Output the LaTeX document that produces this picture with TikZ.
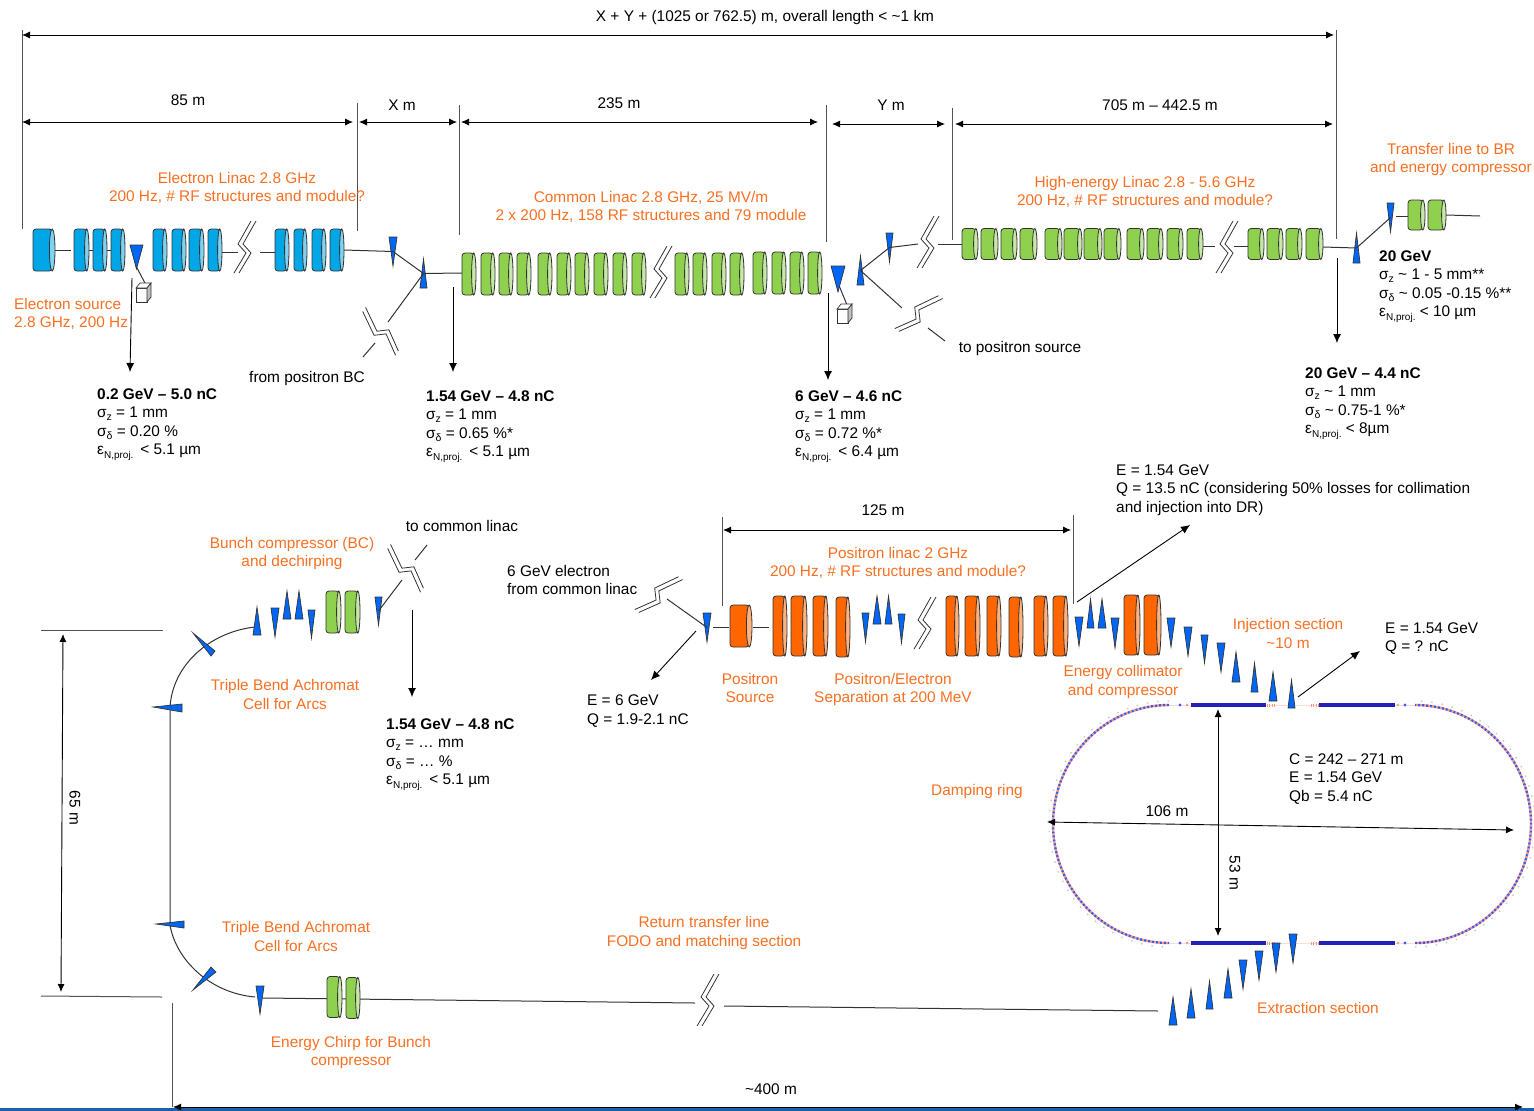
\documentclass[tikz,border=0pt]{standalone}
\usepackage{fontspec}
\setmainfont{Liberation Sans}
\usetikzlibrary{arrows.meta}
\definecolor{cavb}{HTML}{00A6E6}
\definecolor{cavg}{HTML}{8FD14F}
\definecolor{cavo}{HTML}{FF6600}
\definecolor{tribl}{HTML}{0066F5}
\definecolor{lab}{HTML}{F96F22}
\definecolor{ln}{HTML}{333333}
\definecolor{ringb}{HTML}{2222B8}
\definecolor{ringd}{HTML}{4A55E8}
\definecolor{ringp}{HTML}{F79A80}
\definecolor{ringg}{HTML}{B4D4AC}
\definecolor{barb}{HTML}{1F5FA8}
\tikzset{
  x=1pt,y=-1pt,
  wire/.style={draw=ln,line width=1pt},
  arrowdim/.style={draw=black,line width=0.9pt,{Latex[length=8pt,width=7pt]}-{Latex[length=8pt,width=7pt]}},
  arrowone/.style={draw=black,line width=0.9pt,-{Latex[length=9pt,width=8pt]}},
  tick/.style={draw=ln!85!white,line width=1pt},
  txt/.style={font=\fontsize{15.4}{18.5}\selectfont,inner sep=0pt,align=center,text=black},
  olab/.style={txt,text=lab},
  info/.style={txt,align=left,anchor=north west},
  trishape/.style={fill=tribl,draw=ln,line width=0.7pt,line join=miter},
  cavline/.style={draw=ln,line width=0.8pt},
  hit/.style={inner sep=0pt,minimum size=1pt},
}
\newcommand{\cav}[7][2.2]{%
  \node[hit,minimum width={(#4-#3)*1pt},minimum height={#6*1pt}] (#2) at ({(#3+#4)/2},#5) {};
  \filldraw[cavline,fill=#7,rounded corners=3pt] (#3,{#5-#6/2}) rectangle ({#4-#1},{#5+#6/2});
  \filldraw[cavline,fill=#7!50!white] ({#4-#1},#5) ellipse [x radius={#1*1pt},y radius={#6/2*1pt}];
}
\newcommand{\trid}[5]{%
  \node[hit,minimum width={(#3-#2)*1pt},minimum height={(#5-#4)*1pt}] (#1) at ({(#2+#3)/2},{(#4+#5)/2}) {};
  \path[trishape] (#2,#4) -- (#3,#4) -- ({(#2+#3)/2},#5) -- cycle;
}
\newcommand{\triu}[5]{%
  \node[hit,minimum width={(#3-#2)*1pt},minimum height={(#5-#4)*1pt}] (#1) at ({(#2+#3)/2},{(#4+#5)/2}) {};
  \path[trishape] (#2,#5) -- (#3,#5) -- ({(#2+#3)/2},#4) -- cycle;
}
\newcommand{\brk}[4]{%
  \coordinate (#1) at (#2,#3);
  \begin{scope}[shift={(#1)},rotate=#4]
    \draw[draw=ln,line width=0.8pt] (6,-29) -- (-7,-6) -- (1,3) -- (-11,23);
    \draw[draw=ln,line width=0.8pt] (11,-29) -- (-2,-6) -- (6,3) -- (-6,23);
  \end{scope}
}
\newcommand{\conn}[4][wire]{\coordinate (#2a) at (#3); \coordinate (#2b) at (#4); \draw[#1] (#2a) -- (#2b);}
\newcommand{\cube}[3]{%
  \coordinate (#1) at (#2,#3);
  \filldraw[draw=ln,line width=0.7pt,fill=white] (#2,{#3+5}) rectangle ({#2+11},{#3+19});
  \filldraw[draw=ln,line width=0.7pt,fill=white] (#2,{#3+5}) -- ({#2+4},#3) -- ({#2+15},#3) -- ({#2+11},{#3+5}) -- cycle;
  \filldraw[draw=ln,line width=0.7pt,fill=black!25] ({#2+11},{#3+5}) -- ({#2+15},#3) -- ({#2+15},{#3+14}) -- ({#2+11},{#3+19}) -- cycle;
}
\newcommand{\sbs}[1]{\raisebox{-3pt}{\fontsize{10.5}{10.5}\selectfont #1}}
\newcommand{\sbn}{\raisebox{-3.5pt}{\fontsize{10}{10}\selectfont N,proj.}}
\newcommand{\sigz}{σ\sbs{z}}
\newcommand{\sigd}{σ\sbs{δ}}
\newcommand{\epsn}{ε\sbn}
\begin{document}
\begin{tikzpicture}
\useasboundingbox (0,0) rectangle (1534,1111);
\fill[barb] (0,1108) rectangle (1534,1111);

% ---- dimension ticks and arrows, upper line
\conn[tick]{ta}{22,30}{22,229}
\conn[tick]{tb}{357,103}{357,231}
\conn[tick]{tc}{459,105}{459,235}
\conn[tick]{td}{826,105}{826,242}
\conn[tick]{te}{952,108}{952,240}
\conn[tick]{tf}{1336,30}{1336,239}
\conn[arrowdim]{da}{22,35}{1334,35}
\conn[arrowdim]{db}{22,122}{353,122}
\conn[arrowdim]{dc}{359,122}{457,122}
\conn[arrowdim]{dd}{461,122}{818,122}
\conn[arrowdim]{de}{832,124}{945,124}
\conn[arrowdim]{df}{955,124}{1333,124}
\node[txt] (ta1) at (765,18) {X + Y + (1025 or 762.5) m, overall length < \textasciitilde1 km};
\node[txt] (tb1) at (188,100.5) {85 m};
\node[txt] (tc1) at (402,105) {X m};
\node[txt] (td1) at (619,103.5) {235 m};
\node[txt] (te1) at (891,105) {Y m};
\node[txt] (tf1) at (1160,105) {705 m – 442.5 m};
\node[olab] (l1) at (237,188) {Electron Linac 2.8 GHz\\200 Hz, \# RF structures and module?};
\node[olab] (l2) at (651,207) {Common Linac 2.8 GHz, 25 MV/m\\2 x 200 Hz, 158 RF structures and 79 module};
\node[olab] (l3) at (1145,192) {High-energy Linac 2.8 - 5.6 GHz\\200 Hz, \# RF structures and module?};
\node[olab] (l4) at (1451,159.5) {Transfer line to BR\\and energy compressor};
\node[olab,align=left,anchor=north west] (l5) at (14,298) {Electron source\\2.8 GHz, 200 Hz};

% ---- electron linac
\conn{e1}{55,250}{71,250}
\conn{e2}{89,250}{93,250}
\conn{e3}{107,250}{111,250}
\conn{e4}{222,252}{238,252}
\conn{e5}{260,252}{275,252}
\cav[2.8]{b1}{33}{55}{250}{42}{cavb}
\cav{b2}{74}{89}{250}{42}{cavb}
\cav{b3}{93}{107}{250}{42}{cavb}
\cav{b4}{111}{125}{250}{42}{cavb}
\conn{e6}{136,266}{146,285}
\trid{t1}{130}{143}{245}{269}
\cube{cu1}{136}{283}
\cav{b5}{153}{167}{250}{42}{cavb}
\cav{b6}{172}{186}{250}{42}{cavb}
\cav{b7}{189}{204}{250}{42}{cavb}
\cav{b8}{208}{222}{250}{42}{cavb}
\brk{br1}{245}{250}{0}
\cav{b9}{275}{289}{250}{42}{cavb}
\cav{b10}{294}{307}{250}{42}{cavb}
\cav{b11}{312}{326}{250}{42}{cavb}
\cav{b12}{330}{344}{250}{42}{cavb}
\trid{t2}{389}{397}{237}{266}
\triu{t3}{420}{427}{259}{288}
\draw[wire] (b12.east) -- (t2.center);
\draw[wire] (t2.center) -- (t3.center);
\coordinate (fp) at (388,322);
\draw[wire] (t3.center) -- (fp);
\brk{br2}{383}{333}{55}
\conn{e7}{375,343}{363,357}
\node[txt] (fromBC) at (307,379) {from positron BC};

% ---- common linac
\draw[wire] (t3.center) -- (462,273) coordinate (g1in);
\cav{g1}{462}{476}{274}{42}{cavg}
\cav{g2}{481}{495}{274}{42}{cavg}
\cav{g3}{499}{513}{274}{42}{cavg}
\cav{g4}{517}{531}{274}{42}{cavg}
\cav{g5}{538}{552}{274}{42}{cavg}
\cav{g6}{557}{571}{274}{42}{cavg}
\cav{g7}{575}{589}{274}{42}{cavg}
\cav{g8}{594}{608}{274}{42}{cavg}
\cav{g9}{613}{627}{274}{42}{cavg}
\cav{g10}{632}{646}{274}{42}{cavg}
\brk{br3}{661}{275}{0}
\cav{g11}{675}{689}{274}{42}{cavg}
\cav{g12}{693}{707}{274}{42}{cavg}
\cav{g13}{712}{726}{274}{42}{cavg}
\cav{g14}{730}{744}{274}{42}{cavg}
\cav{g15}{753}{767}{273}{42}{cavg}
\cav{g16}{772}{786}{273}{42}{cavg}
\cav{g17}{790}{804}{273}{42}{cavg}
\cav{g18}{808}{822}{273}{42}{cavg}
\conn{e8}{838,283}{847,305}
\trid{t4}{831}{845}{266}{292}
\cube{cu2}{837}{304}
\triu{t5}{857}{864}{256}{285}
\trid{t6}{886}{893}{233}{262}
\draw[wire] (t5.center) -- (t6.center);
\coordinate (ha) at (918,244);
\draw[wire] (t6.center) -- (ha);
\brk{br4}{928}{245}{0}
\coordinate (tp) at (902,308);
\draw[wire] (t5.center) -- (tp);
\brk{br5}{917}{316}{-35}
\conn{e9}{928,328}{945,341}
\node[txt] (toPS) at (1020,349) {to positron source};

% ---- high energy linac
\conn{e10}{938,244}{962,244}
\conn{e15}{1203,246}{1215,246}
\conn{e16}{1234,246}{1248,246}
\cav{h1}{962}{978}{244}{31}{cavg}
\cav{h2}{981}{998}{244}{31}{cavg}
\cav{h3}{1001}{1017}{244}{31}{cavg}
\cav{h4}{1020}{1037}{244}{31}{cavg}
\cav{h5}{1045}{1062}{244}{31}{cavg}
\cav{h6}{1064}{1082}{244}{31}{cavg}
\cav{h7}{1084}{1102}{244}{31}{cavg}
\cav{h8}{1104}{1121}{244}{31}{cavg}
\cav{h9}{1127}{1144}{244}{31}{cavg}
\cav{h10}{1147}{1163}{244}{31}{cavg}
\cav{h11}{1167}{1183}{244}{31}{cavg}
\cav{h12}{1187}{1203}{244}{31}{cavg}
\brk{br6}{1227}{250}{0}
\cav{h13}{1248}{1264}{244}{31}{cavg}
\cav{h14}{1267}{1283}{244}{31}{cavg}
\cav{h15}{1286}{1302}{244}{31}{cavg}
\cav{h16}{1306}{1323}{244}{31}{cavg}
\triu{t7}{1353}{1360}{233}{263}
\trid{t8}{1387}{1394}{203}{232}
\draw[wire] (1323,247) coordinate (h16out) -- (t7.center);
\draw[wire] (t7.center) -- (t8.center);
\conn{e17}{1396,216}{1408,216}
\cav{h17}{1408}{1425}{215}{30}{cavg}
\cav{h18}{1428}{1446}{215}{30}{cavg}
\coordinate (tend) at (1480,216);
\draw[wire] (h18.east) -- (tend);

% ---- beam parameter arrows and tables, upper line
\conn[arrowone]{a1}{132,278}{130,372}
\conn[arrowone]{a2}{453,287}{453,372}
\conn[arrowone]{a3}{828,293}{828,380}
\conn[arrowone]{a4}{1337,258}{1337,343}
\node[info] (p1) at (97,388.5) {\textbf{0.2 GeV – 5.0 nC}\\\sigz{} = 1 mm\\\sigd{} = 0.20 \%\\\epsn{} \,< 5.1 µm};
\node[info] (p2) at (426,390.5) {\textbf{1.54 GeV – 4.8 nC}\\\sigz{} = 1 mm\\\sigd{} = 0.65 \%*\\\epsn{} \,< 5.1 µm};
\node[info] (p3) at (795,390.5) {\textbf{6 GeV – 4.6 nC}\\\sigz{} = 1 mm\\\sigd{} = 0.72 \%*\\\epsn{} \,< 6.4 µm};
\node[info] (p4) at (1379,250.5) {\textbf{20 GeV}\\\sigz{} \textasciitilde{} 1 - 5 mm**\\\sigd{} \textasciitilde{} 0.05 -0.15 \%**\\\epsn{} < 10 µm};
\node[info] (p5) at (1305,367.5) {\textbf{20 GeV – 4.4 nC}\\\sigz{} \textasciitilde{} 1 mm\\\sigd{} \textasciitilde{} 0.75-1 \%*\\\epsn{} < 8µm};

% ---- positron linac
\conn[tick]{tg}{722,517}{722,606}
\conn[tick]{th}{1073,515}{1073,604}
\conn[arrowdim]{dg}{723,530}{1071,530}
\node[txt] (tg1) at (883,510.5) {125 m};
\node[olab] (l6) at (898,563) {Positron linac 2 GHz\\200 Hz, \# RF structures and module?};
\brk{br7}{657}{597}{-35}
\node[txt,align=left,anchor=north west] (el6) at (507,565) {6 GeV electron\\from common linac};
\trid{t9}{703}{711}{613}{642}
\coordinate (ee) at (667,599);
\draw[wire] (ee) -- (t9.center);
\conn{e11}{713,627}{729,627}
\cav[2.8]{o0}{730}{752}{626}{42}{cavo}
\conn{e12}{753,627}{769,627}
\conn[arrowone]{a5}{696,631}{651,680}
\node[txt,align=left,anchor=north west] (en6) at (587,695) {E = 6 GeV\\Q = 1.9-2.1 nC};
\node[olab] (l7) at (750,688) {Positron\\Source};
\node[olab] (l8) at (893,689.5) {Positron/Electron\\Separation at 200 MeV};
\cav{o1}{773}{787}{626}{60}{cavo}
\cav{o2}{791}{807}{626}{60}{cavo}
\cav{o3}{813}{828}{626}{60}{cavo}
\cav{o4}{836}{850}{627}{60}{cavo}
\trid{t10}{862}{869}{613}{642}
\triu{t11}{873}{881}{596}{624}
\triu{t12}{885}{892}{596}{624}
\trid{t13}{898}{905}{614}{643}
\brk{br8}{925}{626}{0}
\cav{o5}{946}{959}{626}{60}{cavo}
\cav{o6}{965}{980}{626}{60}{cavo}
\cav{o7}{987}{1001}{626}{60}{cavo}
\cav{o8}{1009}{1023}{627}{60}{cavo}
\cav{o9}{1034}{1048}{626}{60}{cavo}
\cav{o10}{1053}{1068}{626}{60}{cavo}
\trid{t14}{1075}{1083}{617}{646}
\triu{t15}{1087}{1094}{599}{628}
\triu{t16}{1098}{1106}{599}{628}
\trid{t17}{1111}{1119}{618}{648}
\cav{o11}{1124}{1140}{625}{60}{cavo}
\cav{o12}{1144}{1161}{625}{60}{cavo}
\node[olab] (l9) at (1123,682) {Energy collimator\\and compressor};
\conn[arrowone]{a6}{1077,602}{1190,525}
\node[txt,align=left,anchor=north west] (en1) at (1116,464.5) {E = 1.54 GeV\\Q = 13.5 nC (considering 50\% losses for collimation\\and injection into DR)};

% ---- damping ring
\draw[ringp,line width=0.8pt,opacity=0.35] (1169,705) -- (1415,705);
\draw[ringp,line width=0.8pt,opacity=0.35] (1169,943) -- (1415,943);
\foreach \yy in {705,943}{
  \draw[ringb,line width=4pt] (1191,\yy) -- (1266,\yy);
  \draw[ringb,line width=4pt] (1319,\yy) -- (1395,\yy);
  \draw[ringp,line width=3pt,dash pattern=on 0.8pt off 1.5pt] (1267,\yy) -- (1275,\yy);
  \draw[ringp,line width=3pt,dash pattern=on 0.8pt off 1.5pt] (1311,\yy) -- (1318,\yy);
  \fill[ringd] (1180,\yy) circle (1.7pt);
  \fill[ringd] (1405,\yy) circle (1.7pt);
  \fill[ringp] (1187,\yy) circle (1.4pt);
  \fill[ringp] (1398,\yy) circle (1.4pt);
}
\foreach \cx/\aa/\bb in {1169/90/270,1415/-90/90}{
  \draw[ringg,line width=1.4pt,dash pattern=on 1.4pt off 9pt] plot[smooth,domain=\aa:\bb,samples=60] ({\cx+120*cos(\x)},{824-123*sin(\x)});
  \draw[ringp,line width=2.4pt,dash pattern=on 2pt off 2pt,dash phase=2pt] plot[smooth,domain=\aa:\bb,samples=60] ({\cx+116*cos(\x)},{824-119*sin(\x)});
  \draw[ringd,line width=2.4pt,dash pattern=on 2pt off 2pt] plot[smooth,domain=\aa:\bb,samples=60] ({\cx+116*cos(\x)},{824-119*sin(\x)});
}
\conn[arrowdim]{dh}{1047,822}{1514,830}
\conn[arrowdim]{di}{1218,709}{1218,936}
\node[txt] (tr1) at (1167,811) {106 m};
\node[txt,rotate=-90] (tr2) at (1235,873) {53 m};
\node[olab] (l11) at (977,792) {Damping ring};
\node[txt,align=left,anchor=north west] (dr) at (1289,753.5) {C = 242 – 271 m\\E = 1.54 GeV\\Qb = 5.4 nC};

% ---- injection section
\trid{i1}{1167}{1175}{618}{647}
\trid{i2}{1184}{1192}{627}{656}
\trid{i3}{1201}{1208}{635}{663}
\trid{i4}{1217}{1225}{643}{672}
\triu{i5}{1232}{1240}{652}{682}
\triu{i6}{1251}{1258}{663}{692}
\triu{i7}{1269}{1277}{672}{701}
\triu{i8}{1288}{1295}{680}{708}
\node[olab] (l10) at (1288,633.5) {Injection section\\\textasciitilde10 m};
\conn[arrowone]{a7}{1298,697}{1360,651}
\node[txt,align=left,anchor=north west] (en2) at (1385,622.5) {E = 1.54 GeV\\Q = ? nC};

% ---- extraction section
\trid{x8}{1289}{1297}{934}{963}
\trid{x7}{1272}{1280}{943}{972}
\trid{x6}{1255}{1263}{951}{980}
\trid{x5}{1239}{1247}{960}{989}
\triu{x4}{1224}{1232}{969}{998}
\triu{x3}{1206}{1213}{981}{1009}
\triu{x2}{1187}{1195}{989}{1018}
\triu{x1}{1169}{1177}{997}{1025}
\node[olab] (l12) at (1318,1008) {Extraction section};

% ---- return line
\conn{e13}{724,1006}{1158,1011}
\brk{br9}{708}{1003}{0}
\coordinate (re) at (695,1003);
\coordinate (rs) at (263,998);
\draw[wire] (rs) -- (re);
\cav{r1}{327}{342}{997}{41}{cavg}
\cav{r2}{346}{360}{998}{41}{cavg}
\trid{r3}{256}{264}{986}{1014}
\node[olab] (l13) at (704,933) {Return transfer line\\FODO and matching section};
\node[olab] (l14) at (351,1052.5) {Energy Chirp for Bunch\\compressor};
\node[olab] (l15) at (296,936.5) {Triple Bend Achromat\\Cell for Arcs};

% ---- arc
\draw[wire] (255,627) .. controls (210,632) and (172,665) .. (170,708) -- (170,925) .. controls (176,960) and (210,993) .. (255,997);
\path[trishape] (193,633) -- (215,651) -- (211,656) -- cycle;
\path[trishape] (153,707) -- (182,704) -- (182,712) -- cycle;
\path[trishape] (156,924) -- (184,921) -- (184,928) -- cycle;
\path[trishape] (193,990) -- (211,967) -- (216,972) -- cycle;
\node[olab] (l16) at (285,694.5) {Triple Bend Achromat\\Cell for Arcs};

% ---- bunch compressor
\triu{c1}{253}{261}{607}{635}
\trid{c2}{271}{279}{608}{637}
\triu{c3}{283}{291}{591}{619}
\triu{c4}{295}{303}{591}{619}
\trid{c5}{308}{315}{610}{638}
\cav{c6}{326}{341}{612}{42}{cavg}
\cav{c7}{345}{360}{612}{42}{cavg}
\trid{c8}{375}{382}{597}{625}
\coordinate (cl) at (402,580);
\draw[wire] (c8.center) -- (cl);
\brk{br10}{408}{570}{55}
\conn{e14}{415,560}{427,545}
\node[txt] (toCL) at (462,526) {to common linac};
\node[olab] (l17) at (292,553.5) {Bunch compressor (BC)\\and dechirping};
\conn[arrowone]{a8}{412,610}{412,697}
\node[info] (p6) at (386,718.5) {\textbf{1.54 GeV – 4.8 nC}\\\sigz{} = … mm\\\sigd{} = … \%\\\epsn{} \,< 5.1 µm};

% ---- overall arc dimensions
\conn[tick]{tk1}{41,630}{163,630}
\conn[tick]{tk2}{41,996}{162,997}
\conn[arrowdim]{dj}{63,634}{61,992}
\node[txt,rotate=-90] (t65) at (75,808) {65 m};
\conn[tick]{tk3}{172,1003}{172,1107}
\conn[arrowdim]{dk}{173,1107}{1523,1107}
\node[txt] (t400) at (771,1089) {\textasciitilde400 m};
\end{tikzpicture}
\end{document}
